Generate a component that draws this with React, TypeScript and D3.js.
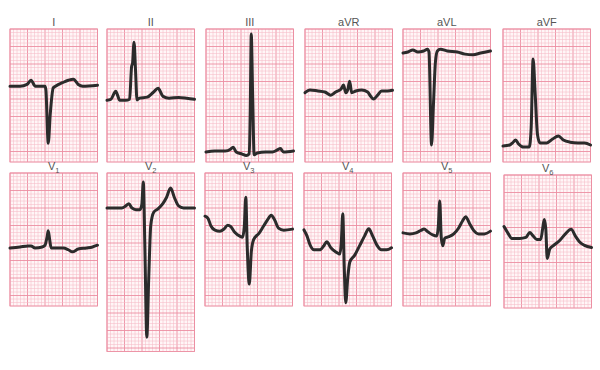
import React from "react";
import * as d3 from "d3";

const W = 600;
const H = 370;
const MM = 3.5; // px per mm of paper
const SPEED = 25; // mm per second
const GAIN = 10; // mm per mV
const STRIP_S = 1.0; // seconds shown per lead

type Pt = [number, number]; // [time s, amplitude mV]

const leadI: Pt[] = [
  [0, 0], [0.115, 0], [0.195, 0.05], [0.24, 0.17], [0.29, 0.0], [0.4, 0], [0.41, -0.1],
  [0.437, -1.63], [0.46, -0.8], [0.494, -0.05], [0.52, 0.0], [0.6, 0.1], [0.667, 0.17],
  [0.724, 0.2], [0.78, 0.05], [0.83, 0], [1.0, 0.03],
];
const leadII: Pt[] = [
  [0, -0.06], [0.045, -0.03], [0.1, 0.2], [0.146, -0.06], [0.213, -0.06], [0.258, -0.03],
  [0.281, 0.9], [0.292, 1.0], [0.309, 1.6], [0.326, 0.8], [0.343, -0.05], [0.37, 0.0],
  [0.46, 0.03], [0.53, 0.17], [0.584, 0.28], [0.64, 0.05], [0.71, 0.0], [0.82, 0.02],
  [0.91, 0.0], [1.0, -0.03],
];
const leadIII: Pt[] = [
  [0, 0], [0.1, 0.03], [0.22, 0.03], [0.28, 0.08], [0.31, 0.14], [0.345, 0.0], [0.414, -0.06],
  [0.46, -0.1], [0.494, -0.05], [0.506, 1.2], [0.517, 3.37], [0.534, 1.5], [0.55, -0.08],
  [0.586, -0.03], [0.68, 0.0], [0.76, 0.0], [0.816, 0.06], [0.85, 0.1], [0.885, 0.0], [1.0, 0.03],
];
const leadAVR: Pt[] = [
  [0, -0.05], [0.057, 0.03], [0.148, 0.0], [0.227, -0.03], [0.295, -0.12], [0.35, -0.03],
  [0.41, 0.05], [0.44, 0.17], [0.466, -0.05], [0.49, 0.05], [0.51, 0.28], [0.534, -0.05],
  [0.58, 0.0], [0.648, 0.03], [0.716, -0.03], [0.75, -0.15], [0.784, -0.23], [0.83, -0.12],
  [0.875, 0.0], [0.943, 0.0], [1.0, 0.02],
];
const leadAVL: Pt[] = [
  [0, -0.03], [0.056, 0.0], [0.112, 0.06], [0.17, 0.0], [0.236, 0.03], [0.28, 0.08],
  [0.297, 0.0], [0.326, -2.66], [0.348, -1.5], [0.37, -0.3], [0.393, 0.03], [0.427, 0.08],
  [0.506, 0.03], [0.62, 0.0], [0.708, -0.06], [0.8, -0.08], [0.887, -0.03], [1.0, 0.03],
];
const leadAVF: Pt[] = [
  [0, -0.03], [0.078, 0.0], [0.11, 0.06], [0.144, 0.14], [0.178, 0.03], [0.233, -0.06],
  [0.3, -0.06], [0.322, 0.5], [0.344, 2.46], [0.367, 1.5], [0.394, 0.3], [0.422, 0.06],
  [0.5, 0.06], [0.567, 0.17], [0.633, 0.26], [0.69, 0.14], [0.767, 0.08], [0.856, 0.06],
  [0.933, 0.06], [1.0, 0.0],
];
const leadV1: Pt[] = [
  [0, -0.03], [0.115, 0.0], [0.207, 0.03], [0.24, 0.03], [0.287, -0.03], [0.368, 0.0],
  [0.4, 0.05], [0.425, 0.3], [0.437, 0.46], [0.454, 0.2], [0.47, -0.03], [0.53, -0.03],
  [0.609, -0.03], [0.667, -0.08], [0.713, -0.14], [0.78, -0.06], [0.874, -0.03], [0.943, 0.0],
  [1.0, 0.05],
];
const leadV2: Pt[] = [
  [0, 0.0], [0.09, 0.0], [0.17, 0.0], [0.215, 0.06], [0.25, 0.12], [0.284, 0.0], [0.33, -0.05],
  [0.375, -0.05], [0.398, 0.1], [0.415, 0.74], [0.432, -1.0], [0.455, -3.69], [0.477, -2.0],
  [0.5, -0.5], [0.534, -0.12], [0.58, -0.03], [0.636, 0.12], [0.68, 0.3], [0.727, 0.57],
  [0.77, 0.3], [0.818, 0.06], [0.875, 0.0], [1.0, 0.0],
];
const leadV3: Pt[] = [
  [0, 0.4], [0.034, 0.34], [0.068, 0.12], [0.114, 0.0], [0.17, -0.03], [0.216, 0.03],
  [0.26, 0.14], [0.295, 0.1], [0.34, -0.06], [0.398, -0.17], [0.43, -0.2], [0.449, 0.1],
  [0.466, 0.94], [0.483, -0.5], [0.506, -1.54], [0.53, -0.6], [0.557, -0.26], [0.614, -0.1],
  [0.67, 0.12], [0.716, 0.3], [0.756, 0.43], [0.795, 0.3], [0.84, 0.06], [0.9, 0.0], [1.0, 0.03],
];
const leadV4: Pt[] = [
  [0, 0.57], [0.034, 0.4], [0.068, 0.15], [0.114, 0.0], [0.18, 0.0], [0.227, 0.12],
  [0.26, 0.23], [0.307, 0.06], [0.364, -0.06], [0.41, -0.12], [0.426, 0.2], [0.443, 1.03],
  [0.46, -0.5], [0.477, -1.51], [0.5, -0.8], [0.523, -0.35], [0.58, -0.15], [0.636, 0.12],
  [0.693, 0.4], [0.74, 0.6], [0.784, 0.4], [0.83, 0.15], [0.886, 0.0], [0.943, 0.0], [1.0, 0.06],
];
const leadV5: Pt[] = [
  [0, 0.03], [0.08, 0.0], [0.148, 0.03], [0.205, 0.1], [0.24, 0.14], [0.284, 0.06],
  [0.34, -0.03], [0.386, -0.06], [0.403, 0.2], [0.42, 0.94], [0.437, -0.1], [0.455, -0.34],
  [0.477, -0.12], [0.523, -0.08], [0.58, 0.0], [0.636, 0.17], [0.68, 0.37], [0.716, 0.49],
  [0.76, 0.3], [0.807, 0.1], [0.864, 0.0], [0.93, 0.0], [1.0, 0.08],
];
const leadV6: Pt[] = [
  [0, 0.34], [0.045, 0.15], [0.09, 0.0], [0.18, 0.0], [0.25, 0.03], [0.295, 0.17],
  [0.33, 0.08], [0.375, -0.03], [0.42, -0.03], [0.443, 0.3], [0.46, 0.54], [0.477, 0.3],
  [0.494, -0.57], [0.523, -0.3], [0.568, -0.2], [0.636, -0.06], [0.705, 0.14], [0.767, 0.26],
  [0.818, 0.06], [0.864, -0.1], [0.92, -0.2], [1.0, -0.26],
];

type Panel = {
  name: string;
  sub?: string;
  data: Pt[];
  x: number;
  y: number;
  hMm: number;
  base: number; // isoelectric line as fraction of strip height from top
};

const panels: Panel[] = [
  { name: "I", data: leadI, x: 10, y: 29, hMm: 38, base: 0.43 },
  { name: "II", data: leadII, x: 107, y: 29, hMm: 38, base: 0.52 },
  { name: "III", data: leadIII, x: 206, y: 29, hMm: 38, base: 0.925 },
  { name: "aVR", data: leadAVR, x: 305, y: 29, hMm: 38, base: 0.466 },
  { name: "aVL", data: leadAVL, x: 403, y: 29, hMm: 38, base: 0.173 },
  { name: "aVF", data: leadAVF, x: 503, y: 29, hMm: 38, base: 0.872 },
  { name: "V", sub: "1", data: leadV1, x: 10, y: 173, hMm: 38, base: 0.556 },
  { name: "V", sub: "2", data: leadV2, x: 107, y: 173, hMm: 51, base: 0.196 },
  { name: "V", sub: "3", data: leadV3, x: 205, y: 173, hMm: 38, base: 0.43 },
  { name: "V", sub: "4", data: leadV4, x: 304, y: 173, hMm: 38, base: 0.578 },
  { name: "V", sub: "5", data: leadV5, x: 403, y: 173, hMm: 38, base: 0.458 },
  { name: "V", sub: "6", data: leadV6, x: 504, y: 175, hMm: 38, base: 0.477 },
];

const MINOR = "#f6bcc8";
const MAJOR = "#ec8ea2";
const PAPER = "#fff6f7";
const INK = "#2b2b2b";

function Strip({ p }: { p: Panel }) {
  const wMm = SPEED * STRIP_S;
  const wPx = wMm * MM;
  const hPx = p.hMm * MM;
  const baseY = p.y + p.base * hPx;

  const x = d3.scaleLinear().domain([0, STRIP_S]).range([p.x, p.x + wPx]);
  const y = d3
    .scaleLinear()
    .domain([0, 1])
    .range([baseY, baseY - GAIN * MM]);

  const gx = d3.scaleLinear().domain([0, wMm]).range([p.x, p.x + wPx]);
  const gy = d3.scaleLinear().domain([0, p.hMm]).range([p.y, p.y + hPx]);

  const line = d3
    .line<Pt>()
    .x((d) => x(d[0]))
    .y((d) => y(d[1]))
    .curve(d3.curveMonotoneX);

  const vMinor = d3.range(0, wMm + 0.01, 1);
  const hMinor = d3.range(0, p.hMm + 0.01, 1);

  const cx = p.x + wPx / 2;
  const labelY = p.y - 3;

  return (
    <g>
      <rect x={p.x} y={p.y} width={wPx} height={hPx} fill={PAPER} />
      {vMinor.map((m) => (
        <line
          key={"v" + m}
          x1={gx(m)}
          x2={gx(m)}
          y1={p.y}
          y2={p.y + hPx}
          stroke={m % 5 === 0 ? MAJOR : MINOR}
          strokeWidth={m % 5 === 0 ? 0.9 : 0.55}
        />
      ))}
      {hMinor.map((m) => (
        <line
          key={"h" + m}
          x1={p.x}
          x2={p.x + wPx}
          y1={gy(m)}
          y2={gy(m)}
          stroke={m % 5 === 0 ? MAJOR : MINOR}
          strokeWidth={m % 5 === 0 ? 0.9 : 0.55}
        />
      ))}
      <rect x={p.x} y={p.y} width={wPx} height={hPx} fill="none" stroke={MAJOR} strokeWidth={0.9} />
      <path
        d={line(p.data) || ""}
        fill="none"
        stroke={INK}
        strokeWidth={3}
        strokeLinejoin="round"
        strokeLinecap="round"
      />
      <text
        x={cx}
        y={labelY}
        textAnchor="middle"
        fontFamily="'Liberation Sans', Arial, sans-serif"
        fontSize={11}
        fill="#555555"
      >
        {p.name}
        {p.sub ? (
          <tspan fontSize={7.5} dy={3}>
            {p.sub}
          </tspan>
        ) : null}
      </text>
    </g>
  );
}

export default function App() {
  return (
    <svg
      width={W}
      height={H}
      viewBox={`0 0 ${W} ${H}`}
      style={{ position: "absolute", left: 0, top: 0, background: "#ffffff" }}
    >
      <rect x={0} y={0} width={W} height={H} fill="#ffffff" />
      {panels.map((p, i) => (
        <Strip key={i} p={p} />
      ))}
    </svg>
  );
}
